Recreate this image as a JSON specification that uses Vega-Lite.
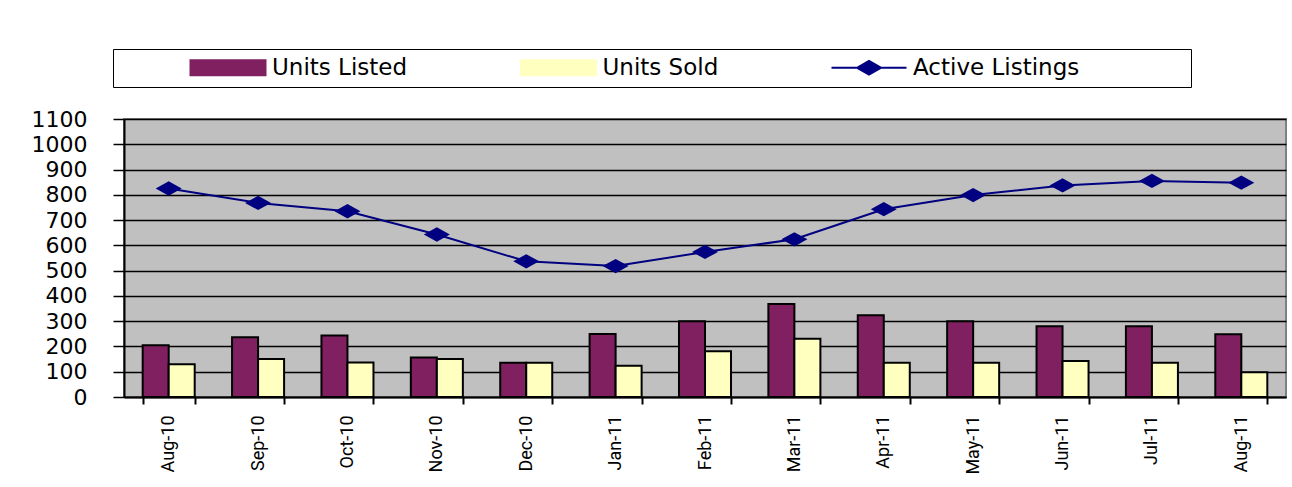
{
  "$schema": "https://vega.github.io/schema/vega-lite/v6.json",
  "width": 1162,
  "height": 278,
  "autosize": "none",
  "padding": {"left": 124, "top": 119, "right": 6, "bottom": 90},
  "background": "white",
  "config": {
    "view": {"fill": "#C0C0C0", "stroke": "#808080", "strokeWidth": 2}
  },
  "data": {
    "values": [
      {"month": "Aug-10", "series": "Units Listed", "value": 205},
      {"month": "Sep-10", "series": "Units Listed", "value": 236},
      {"month": "Oct-10", "series": "Units Listed", "value": 243},
      {"month": "Nov-10", "series": "Units Listed", "value": 156},
      {"month": "Dec-10", "series": "Units Listed", "value": 136},
      {"month": "Jan-11", "series": "Units Listed", "value": 249},
      {"month": "Feb-11", "series": "Units Listed", "value": 300},
      {"month": "Mar-11", "series": "Units Listed", "value": 368},
      {"month": "Apr-11", "series": "Units Listed", "value": 323},
      {"month": "May-11", "series": "Units Listed", "value": 300},
      {"month": "Jun-11", "series": "Units Listed", "value": 280},
      {"month": "Jul-11", "series": "Units Listed", "value": 280},
      {"month": "Aug-11", "series": "Units Listed", "value": 248},
      {"month": "Aug-10", "series": "Units Sold", "value": 130},
      {"month": "Sep-10", "series": "Units Sold", "value": 150},
      {"month": "Oct-10", "series": "Units Sold", "value": 137},
      {"month": "Nov-10", "series": "Units Sold", "value": 150},
      {"month": "Dec-10", "series": "Units Sold", "value": 136},
      {"month": "Jan-11", "series": "Units Sold", "value": 124},
      {"month": "Feb-11", "series": "Units Sold", "value": 181},
      {"month": "Mar-11", "series": "Units Sold", "value": 230},
      {"month": "Apr-11", "series": "Units Sold", "value": 136},
      {"month": "May-11", "series": "Units Sold", "value": 136},
      {"month": "Jun-11", "series": "Units Sold", "value": 142},
      {"month": "Jul-11", "series": "Units Sold", "value": 136},
      {"month": "Aug-11", "series": "Units Sold", "value": 98},
      {"month": "Aug-10", "series": "Active Listings", "value": 825},
      {"month": "Sep-10", "series": "Active Listings", "value": 768},
      {"month": "Oct-10", "series": "Active Listings", "value": 735},
      {"month": "Nov-10", "series": "Active Listings", "value": 643},
      {"month": "Dec-10", "series": "Active Listings", "value": 537},
      {"month": "Jan-11", "series": "Active Listings", "value": 518},
      {"month": "Feb-11", "series": "Active Listings", "value": 574},
      {"month": "Mar-11", "series": "Active Listings", "value": 624},
      {"month": "Apr-11", "series": "Active Listings", "value": 743},
      {"month": "May-11", "series": "Active Listings", "value": 799},
      {"month": "Jun-11", "series": "Active Listings", "value": 837},
      {"month": "Jul-11", "series": "Active Listings", "value": 855},
      {"month": "Aug-11", "series": "Active Listings", "value": 848}
    ]
  },
  "encoding": {
    "x": {
      "field": "month",
      "type": "ordinal",
      "sort": ["Aug-10", "Sep-10", "Oct-10", "Nov-10", "Dec-10", "Jan-11", "Feb-11", "Mar-11", "Apr-11", "May-11", "Jun-11", "Jul-11", "Aug-11"],
      "scale": {"paddingInner": 0.418, "paddingOuter": 0.209},
      "axis": {
        "title": null,
        "labelAngle": -90,
        "labelFont": "Roboto",
        "labelFontSize": 18,
        "labelColor": "black",
        "labelPadding": 11,
        "tickBand": "extent",
        "tickSize": 7,
        "tickWidth": 2,
        "tickColor": "black",
        "domainColor": "black",
        "domainWidth": 2
      }
    },
    "y": {
      "field": "value",
      "type": "quantitative",
      "scale": {"domain": [0, 1100], "nice": false},
      "axis": {
        "title": null,
        "format": "d",
        "values": [0, 100, 200, 300, 400, 500, 600, 700, 800, 900, 1000, 1100],
        "grid": true,
        "gridColor": "black",
        "gridWidth": 1.5,
        "gridOpacity": 1,
        "tickColor": "black",
        "tickSize": 11,
        "tickWidth": 1.5,
        "domainColor": "black",
        "domainWidth": 2,
        "labelFont": "DejaVu Sans",
        "labelFontSize": 22,
        "labelColor": "black",
        "labelPadding": 26
      }
    },
    "color": {
      "field": "series",
      "type": "nominal",
      "scale": {
        "domain": ["Units Listed", "Units Sold", "Active Listings"],
        "range": ["#802060", "#FFFFC0", "#000080"]
      },
      "legend": {
        "title": null,
        "orient": "none",
        "legendX": -11,
        "legendY": -70,
        "direction": "horizontal",
        "strokeColor": "black",
        "fillColor": "white",
        "padding": 7,
        "symbolSize": 225,
        "symbolOffset": 96.5,
        "labelOffset": 32.5,
        "columnPadding": 42.5,
        "symbolStrokeWidth": 2,
        "symbolStrokeColor": {"expr": "datum.value === 'Active Listings' ? '#000080' : 'black'"},
        "labelFont": "DejaVu Sans",
        "labelFontSize": 23,
        "labelColor": "black",
        "labelLimit": 600,
        "labelExpr": "datum.label === 'Active Listings' ? datum.label + '\u00a0\u00a0\u00a0\u00a0\u00a0\u00a0\u00a0\u00a0\u00a0\u00a0\u00a0\u00a0\u2800' : datum.label",
        "encode": {
          "symbols": {
            "update": {
              "shape": {"signal": "datum.value === 'Active Listings' ? 'M-5,0H5M-1.6,0L0,-0.9L1.6,0L0,0.9Z' : 'M-5,-1H5V1H-5Z'"},
              "fill": {"signal": "datum.value === 'Active Listings' ? '#000080' : (datum.value === 'Units Listed' ? '#802060' : '#FFFFC0')"},
              "stroke": {"signal": "datum.value === 'Active Listings' ? '#000080' : 'black'"},
              "strokeWidth": {"value": 2},
              "strokeOpacity": {"value": 1},
              "fillOpacity": {"value": 1},
              "opacity": {"value": 1}
            }
          }
        }
      }
    }
  },
  "layer": [
    {
      "transform": [{"filter": "datum.series !== 'Active Listings'"}],
      "mark": {"type": "bar", "stroke": "black", "strokeWidth": 2},
      "encoding": {
        "xOffset": {"field": "series", "type": "nominal", "sort": ["Units Listed", "Units Sold"]}
      }
    },
    {
      "transform": [{"filter": "datum.series === 'Active Listings'"}],
      "mark": {
        "type": "line",
        "strokeWidth": 2,
        "point": {"shape": "M-1,0L0,-0.55L1,0L0,0.55Z", "size": 676, "filled": true, "opacity": 1}
      }
    }
  ]
}
